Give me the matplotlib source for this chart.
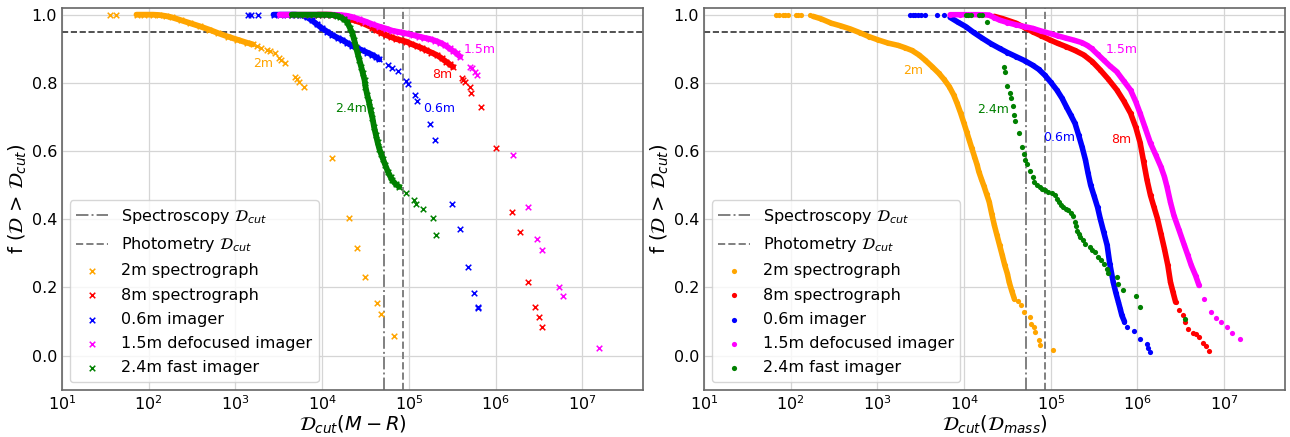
import numpy as np
import matplotlib.pyplot as plt
from matplotlib.ticker import NullLocator

# f(D > D_cut), x values are log10(D_cut)
names = ['2m spectrograph', '8m spectrograph', '0.6m imager',
         '1.5m defocused imager', '2.4m fast imager']
short = ['2m', '8m', '0.6m', '1.5m', '2.4m']
colors = ['orange', 'red', 'blue', 'magenta', 'green']

spec_cut = 5.2e4
phot_cut = 8.5e4
f_level = 0.95

# ---- left panel: D_cut(M-R) ----
mr_2m_band = [(1.86, 1.0), (1.95, 1.0), (2.05, 1.0), (2.12, 0.999), (2.20, 0.996),
              (2.27, 0.992), (2.37, 0.984), (2.48, 0.975), (2.59, 0.966), (2.70, 0.956),
              (2.80, 0.946), (2.91, 0.936), (3.02, 0.927), (3.13, 0.918), (3.20, 0.913)]
mr_2m_pts = [(1.56, 1.0), (1.62, 1.0), (3.25, 0.908), (3.30, 0.903), (3.36, 0.897),
             (3.40, 0.893), (3.46, 0.887), (3.50, 0.874), (3.53, 0.866), (3.57, 0.857),
             (3.69, 0.818), (3.71, 0.811), (3.73, 0.803), (3.79, 0.789), (4.12, 0.580),
             (4.31, 0.403), (4.40, 0.315), (4.50, 0.232), (4.63, 0.155), (4.68, 0.121),
             (4.83, 0.058)]

mr_8m_band = [(3.95, 1.0), (4.10, 1.0), (4.25, 0.995), (4.35, 0.985), (4.47, 0.975),
              (4.58, 0.962), (4.62, 0.955), (4.68, 0.947), (4.74, 0.940), (4.80, 0.934),
              (4.85, 0.929), (4.91, 0.925), (4.97, 0.921), (5.03, 0.914), (5.09, 0.908),
              (5.15, 0.902), (5.20, 0.896), (5.26, 0.889), (5.32, 0.882), (5.38, 0.872),
              (5.43, 0.862), (5.47, 0.855), (5.51, 0.847)]
mr_8m_pts = [(5.61, 0.815), (5.63, 0.808), (5.65, 0.803), (5.70, 0.787), (5.72, 0.769),
             (5.83, 0.730), (6.00, 0.608), (6.19, 0.422), (6.28, 0.363), (6.37, 0.215),
             (6.46, 0.144), (6.50, 0.113), (6.54, 0.085)]

mr_06m_band = [(3.44, 1.0), (3.52, 1.0), (3.60, 1.0), (3.69, 1.0), (3.77, 0.998),
               (3.83, 0.992), (3.88, 0.984), (3.94, 0.972), (4.00, 0.960), (4.06, 0.950),
               (4.12, 0.940), (4.18, 0.932), (4.23, 0.926), (4.29, 0.917), (4.35, 0.908),
               (4.40, 0.902), (4.46, 0.896), (4.52, 0.889), (4.58, 0.882), (4.62, 0.876),
               (4.66, 0.869)]
mr_06m_pts = [(3.14, 1.0), (3.18, 1.0), (3.26, 1.0), (4.76, 0.852), (4.81, 0.844),
              (4.88, 0.834), (4.97, 0.806), (4.99, 0.797), (5.07, 0.764), (5.10, 0.748),
              (5.24, 0.680), (5.30, 0.633), (5.50, 0.444), (5.59, 0.373), (5.68, 0.260),
              (5.75, 0.185), (5.80, 0.144), (5.80, 0.139)]

mr_15m_band = [(3.51, 1.0), (3.60, 1.0), (3.70, 1.0), (3.80, 1.0), (3.90, 1.0),
               (4.00, 1.0), (4.10, 1.0), (4.20, 0.999), (4.28, 0.997), (4.35, 0.993),
               (4.42, 0.987), (4.50, 0.980), (4.58, 0.972), (4.66, 0.965), (4.74, 0.959),
               (4.81, 0.953), (4.89, 0.949), (4.97, 0.945), (5.05, 0.940), (5.12, 0.936),
               (5.18, 0.932), (5.24, 0.929), (5.30, 0.924), (5.36, 0.918), (5.42, 0.910),
               (5.47, 0.901), (5.51, 0.894), (5.55, 0.887), (5.59, 0.877)]
mr_15m_pts = [(5.71, 0.848), (5.73, 0.843), (5.76, 0.833), (5.79, 0.823), (6.20, 0.588),
              (6.37, 0.437), (6.48, 0.341), (6.54, 0.310), (6.73, 0.200), (6.78, 0.174),
              (7.19, 0.023)]

mr_24m_band = [(3.65, 1.0), (3.75, 1.0), (3.85, 1.0), (3.95, 1.0), (4.05, 1.0),
               (4.12, 0.999), (4.17, 0.997), (4.21, 0.993), (4.25, 0.987), (4.29, 0.978),
               (4.32, 0.962), (4.35, 0.945), (4.37, 0.926), (4.39, 0.906), (4.41, 0.886),
               (4.43, 0.867), (4.45, 0.848), (4.47, 0.828), (4.49, 0.808), (4.50, 0.789),
               (4.52, 0.765), (4.54, 0.745), (4.56, 0.720), (4.58, 0.698), (4.60, 0.670),
               (4.62, 0.648), (4.64, 0.626), (4.66, 0.607), (4.68, 0.592), (4.70, 0.578),
               (4.73, 0.558), (4.76, 0.539), (4.79, 0.524), (4.81, 0.514), (4.85, 0.503),
               (4.89, 0.495)]
mr_24m_pts = [(4.97, 0.477), (5.06, 0.457), (5.08, 0.445), (5.16, 0.429), (5.28, 0.404),
              (5.31, 0.354)]

# ---- right panel: D_cut(D_mass) ----
dm_2m_band = [(2.26, 0.995), (2.35, 0.988), (2.47, 0.975), (2.58, 0.967), (2.69, 0.958),
              (2.80, 0.947), (2.90, 0.936), (3.01, 0.926), (3.12, 0.917), (3.24, 0.910),
              (3.32, 0.903), (3.40, 0.895), (3.48, 0.882), (3.55, 0.867), (3.63, 0.848),
              (3.71, 0.828), (3.77, 0.810), (3.83, 0.789), (3.88, 0.765), (3.92, 0.740),
              (3.96, 0.712), (4.00, 0.681), (4.03, 0.657), (4.06, 0.632), (4.09, 0.608),
              (4.12, 0.584), (4.15, 0.560), (4.17, 0.540), (4.20, 0.518), (4.23, 0.497),
              (4.26, 0.474), (4.29, 0.451), (4.32, 0.415), (4.35, 0.382), (4.38, 0.353),
              (4.41, 0.324), (4.44, 0.295), (4.47, 0.265), (4.50, 0.240), (4.52, 0.216),
              (4.55, 0.190), (4.58, 0.167)]
dm_2m_pts = [(1.83, 1.0), (1.87, 1.0), (1.91, 1.0), (1.94, 1.0), (1.97, 1.0),
             (2.06, 1.0), (2.09, 1.0), (2.12, 1.0), (2.22, 0.999), (4.62, 0.160),
             (4.66, 0.148), (4.69, 0.128), (4.76, 0.113), (4.775, 0.094), (4.81, 0.084),
             (4.82, 0.069), (4.86, 0.045), (4.88, 0.032), (5.02, 0.018)]

dm_8m_band = [(4.35, 0.995), (4.45, 0.988), (4.52, 0.982), (4.60, 0.975), (4.70, 0.962),
              (4.79, 0.950), (4.89, 0.938), (4.99, 0.926), (5.08, 0.916), (5.18, 0.906),
              (5.28, 0.895), (5.38, 0.882), (5.48, 0.862), (5.57, 0.838), (5.66, 0.812),
              (5.76, 0.780), (5.84, 0.748), (5.92, 0.711), (5.98, 0.670), (6.03, 0.625),
              (6.07, 0.570), (6.11, 0.515), (6.15, 0.470), (6.19, 0.436), (6.23, 0.402),
              (6.27, 0.358), (6.31, 0.314), (6.35, 0.265), (6.38, 0.216), (6.41, 0.186),
              (6.44, 0.157)]
dm_8m_pts = [(4.19, 1.0), (4.29, 1.0), (6.48, 0.135), (6.52, 0.118), (6.55, 0.098),
             (6.58, 0.079), (6.64, 0.068), (6.67, 0.063), (6.71, 0.054), (6.76, 0.038),
             (6.79, 0.029), (6.83, 0.015)]

dm_06m_band = [(3.84, 0.992), (3.93, 0.978), (4.02, 0.965), (4.11, 0.948), (4.21, 0.931),
               (4.31, 0.915), (4.41, 0.901), (4.50, 0.889), (4.60, 0.877), (4.70, 0.865),
               (4.79, 0.852), (4.86, 0.840), (4.93, 0.823), (5.00, 0.802), (5.07, 0.779),
               (5.13, 0.755), (5.18, 0.730), (5.23, 0.706), (5.28, 0.681), (5.32, 0.648),
               (5.36, 0.613), (5.40, 0.574), (5.43, 0.535), (5.46, 0.500), (5.50, 0.468),
               (5.54, 0.435), (5.57, 0.402), (5.61, 0.363), (5.65, 0.324), (5.68, 0.270),
               (5.72, 0.216), (5.75, 0.185), (5.78, 0.157), (5.80, 0.138), (5.82, 0.118),
               (5.85, 0.100)]
dm_06m_pts = [(3.38, 1.0), (3.41, 1.0), (3.44, 1.0), (3.47, 1.0), (3.50, 1.0),
              (3.55, 1.0), (3.69, 1.0), (3.77, 0.999), (5.88, 0.084), (5.96, 0.071),
              (6.03, 0.050), (6.11, 0.035), (6.12, 0.022), (6.14, 0.011)]

dm_15m_band = [(3.84, 1.0), (3.95, 1.0), (4.05, 1.0), (4.17, 1.0), (4.29, 0.999),
               (4.35, 0.991), (4.41, 0.984), (4.50, 0.977), (4.60, 0.970), (4.70, 0.965),
               (4.79, 0.960), (4.89, 0.952), (4.99, 0.945), (5.08, 0.938), (5.18, 0.931),
               (5.27, 0.925), (5.36, 0.918), (5.42, 0.910), (5.47, 0.901), (5.54, 0.884),
               (5.61, 0.867), (5.68, 0.850), (5.76, 0.833), (5.84, 0.806), (5.92, 0.779),
               (5.98, 0.745), (6.03, 0.711), (6.09, 0.667), (6.15, 0.623), (6.21, 0.589),
               (6.27, 0.554), (6.31, 0.525), (6.34, 0.496), (6.38, 0.450), (6.42, 0.411),
               (6.48, 0.368), (6.54, 0.324), (6.58, 0.295), (6.62, 0.265), (6.67, 0.235),
               (6.71, 0.206)]
dm_15m_pts = [(6.77, 0.166), (6.85, 0.127), (6.90, 0.112), (6.96, 0.098), (7.03, 0.083),
              (7.09, 0.068), (7.18, 0.049)]

dm_24m_band = []
dm_24m_pts = [(4.02, 1.0), (4.05, 1.0), (4.08, 1.0), (4.17, 1.0), (4.21, 1.0),
              (4.27, 0.980), (4.46, 0.847), (4.47, 0.831), (4.50, 0.791), (4.53, 0.771),
              (4.54, 0.755), (4.56, 0.732), (4.58, 0.706), (4.59, 0.689), (4.63, 0.654),
              (4.67, 0.611), (4.69, 0.591), (4.70, 0.575), (4.73, 0.563), (4.76, 0.543),
              (4.79, 0.524), (4.81, 0.509), (4.84, 0.502), (4.87, 0.495), (4.90, 0.490),
              (4.93, 0.485), (4.97, 0.480), (5.01, 0.476), (5.05, 0.470), (5.07, 0.460),
              (5.09, 0.451), (5.12, 0.443), (5.14, 0.436), (5.17, 0.431), (5.20, 0.426),
              (5.23, 0.419), (5.26, 0.411), (5.28, 0.392), (5.29, 0.380), (5.30, 0.367),
              (5.32, 0.357), (5.34, 0.348), (5.37, 0.338), (5.40, 0.328), (5.45, 0.319),
              (5.48, 0.311), (5.51, 0.304), (5.54, 0.289), (5.58, 0.280), (5.61, 0.270),
              (5.65, 0.255), (5.66, 0.243), (5.76, 0.231), (5.77, 0.211), (5.83, 0.194),
              (5.98, 0.174), (6.03, 0.143), (6.55, 0.108)]

mr_bands = [mr_2m_band, mr_8m_band, mr_06m_band, mr_15m_band, mr_24m_band]
mr_pts = [mr_2m_pts, mr_8m_pts, mr_06m_pts, mr_15m_pts, mr_24m_pts]
dm_bands = [dm_2m_band, dm_8m_band, dm_06m_band, dm_15m_band, dm_24m_band]
dm_pts = [dm_2m_pts, dm_8m_pts, dm_06m_pts, dm_15m_pts, dm_24m_pts]

# where the short names sit (log10 x, f)
mr_text = [(3.32, 0.857), (5.39, 0.826), (5.35, 0.725), (5.82, 0.898), (4.33, 0.725)]
dm_text = [(3.41, 0.836), (5.81, 0.633), (5.10, 0.640), (5.82, 0.899), (4.33, 0.722)]


def draw(ax, bands, pts, texts, marker, xlabel):
    for i in range(5):
        c = colors[i]
        if bands[i]:
            lx, fy = np.array(bands[i]).T
            ax.plot(10 ** lx, fy, color=c, lw=4.2 if marker == 'x' else 4.0,
                    solid_capstyle='round', solid_joinstyle='round', zorder=3)
            if marker == 'x':
                ax.scatter(10 ** lx, fy, marker='x', color=c, s=16, lw=1.1, zorder=3)
            else:
                ax.scatter(10 ** lx, fy, marker='o', color=c, s=14, lw=0, zorder=3)
        lx, fy = np.array(pts[i]).T
        if marker == 'x':
            ax.scatter(10 ** lx, fy, marker='x', color=c, s=16, lw=1.1, zorder=3,
                       label=names[i])
        else:
            ax.scatter(10 ** lx, fy, marker='o', color=c, s=14, lw=0, zorder=3,
                       label=names[i])
        tx, ty = texts[i]
        ax.text(10 ** tx, ty, short[i], color=c, fontsize=9, ha='center', va='center')

    ax.axvline(spec_cut, color='gray', ls='-.', lw=1.4, zorder=2,
               label=r'Spectroscopy $\mathcal{D}_{cut}$')
    ax.axvline(phot_cut, color='gray', ls='--', lw=1.4, zorder=2,
               label=r'Photometry $\mathcal{D}_{cut}$')
    ax.axhline(f_level, color='#333333', ls='--', lw=1.2, zorder=2)

    ax.set_xscale('log')
    ax.set_xlim(10, 5e7)
    ax.set_ylim(-0.1, 1.02)
    ax.set_yticks([0.0, 0.2, 0.4, 0.6, 0.8, 1.0])
    ax.xaxis.set_minor_locator(NullLocator())
    ax.grid(True, color='#d5d5d5', lw=0.9)
    ax.set_axisbelow(True)
    ax.tick_params(labelsize=11.5, length=0, pad=3.5)
    for s in ax.spines.values():
        s.set_color('#666666')
        s.set_linewidth(1.2)
    ax.set_xlabel(xlabel, fontsize=14, labelpad=0)
    ax.set_ylabel(r'f ($\mathcal{D}$ > $\mathcal{D}_{cut}$)', fontsize=14, labelpad=2)

    h, l = ax.get_legend_handles_labels()
    order = [5, 6, 0, 1, 2, 3, 4]
    ax.legend([h[k] for k in order], [l[k] for k in order], loc='lower left',
              fontsize=11.5, scatterpoints=1, labelspacing=0.58, framealpha=0.8)


fig, axes = plt.subplots(1, 2, figsize=(12.9, 4.37), dpi=100)
draw(axes[0], mr_bands, mr_pts, mr_text, 'x', r'$\mathcal{D}_{cut}(M-R)$')
draw(axes[1], dm_bands, dm_pts, dm_text, 'o', r'$\mathcal{D}_{cut}(\mathcal{D}_{mass})$')
fig.subplots_adjust(left=0.048, right=0.996, top=0.982, bottom=0.108, wspace=0.105)
fig.savefig('out.png', dpi=100)
